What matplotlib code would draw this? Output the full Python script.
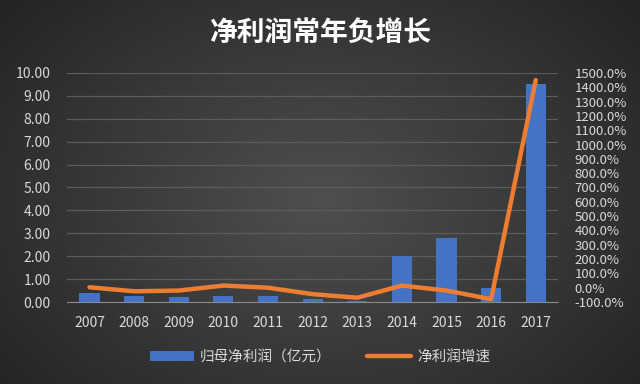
import numpy as np
import matplotlib
matplotlib.use("Agg")
import matplotlib.pyplot as plt
from matplotlib.ticker import FuncFormatter, MultipleLocator

plt.rcParams['font.family'] = ['Noto Sans CJK SC', 'DejaVu Sans']

years = ['2007', '2008', '2009', '2010', '2011', '2012', '2013', '2014', '2015', '2016', '2017']
profit = [0.38, 0.28, 0.22, 0.28, 0.28, 0.15, 0.05, 2.02, 2.78, 0.60, 9.50]
growth = [3, -25, -20, 15, 0, -45, -70, 15, -20, -80, 1450]

title = '净利润常年负增长'
bar_label = '归母净利润（亿元）'
line_label = '净利润增速'

fig = plt.figure(figsize=(6.4, 3.84), dpi=100)

# background radial gradient
bg = fig.add_axes([0, 0, 1, 1])
yy, xx = np.mgrid[0:384, 0:640]
d = np.sqrt(((xx - 320) / 420.0) ** 2 + ((yy - 200) / 300.0) ** 2)
v = np.clip(0.31 - 0.17 * d, 0.10, 0.32)
bg.imshow(np.dstack([v, v, v]), aspect='auto', extent=[0, 1, 0, 1])
bg.axis('off')

ax = fig.add_axes([0.105, 0.2135, 0.767, 0.5965])
ax.patch.set_alpha(0)
x = np.arange(len(years))
ax.bar(x, profit, width=0.45, color='#4472c4', zorder=2, label=bar_label)
ax.set_xlim(-0.5, len(years) - 0.5)
ax.set_ylim(0, 10)
ax.yaxis.set_major_locator(MultipleLocator(1))
ax.yaxis.set_major_formatter(FuncFormatter(lambda v, p: f'{v:.2f}'))
ax.grid(axis='y', color='#5c5c5c', linewidth=0.9, zorder=0)
ax.set_xticks(x)
ax.set_xticklabels(years)
for s in ['top', 'right', 'left']:
    ax.spines[s].set_visible(False)
ax.spines['bottom'].set_color('#8a8a8a')
ax.tick_params(axis='both', length=0, colors='#d9d9d9', labelsize=10)
ax.tick_params(axis='y', pad=12)
ax.tick_params(axis='x', pad=10)

ax2 = ax.twinx()
ax2.plot(x, growth, color='#ed7d31', linewidth=3.2, zorder=3, label=line_label,
         solid_capstyle='round', solid_joinstyle='round')
ax2.set_ylim(-100, 1500)
ax2.yaxis.set_major_locator(MultipleLocator(100))
ax2.yaxis.set_major_formatter(FuncFormatter(lambda v, p: f'{v:.1f}%'))
for s in ax2.spines.values():
    s.set_visible(False)
ax2.tick_params(axis='y', length=0, colors='#d9d9d9', labelsize=9.5, pad=12)

fig.text(0.5, 0.915, title, ha='center', va='center', color='white',
         fontsize=20, fontweight='bold')

h1, l1 = ax.get_legend_handles_labels()
h2, l2 = ax2.get_legend_handles_labels()
leg = fig.legend(h1 + h2, l1 + l2, loc='center', bbox_to_anchor=(0.5, 0.07),
                 ncol=2, frameon=False, fontsize=10.5, handlelength=3.0,
                 handleheight=0.6, columnspacing=2.5, handletextpad=0.4,
                 labelcolor='#d9d9d9')

fig.savefig('out.png', dpi=100)
